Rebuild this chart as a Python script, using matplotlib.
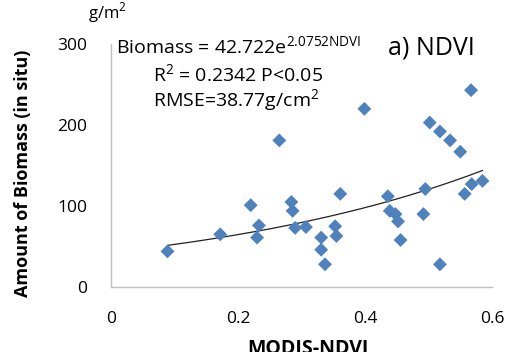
import numpy as np
import matplotlib
matplotlib.use('Agg')
import matplotlib.pyplot as plt

# MODIS-NDVI vs in situ biomass (g/m2)
ndvi = [0.089, 0.172, 0.220, 0.233, 0.230, 0.284, 0.286, 0.290, 0.307,
        0.361, 0.353, 0.355, 0.331, 0.331, 0.337, 0.436, 0.439, 0.448,
        0.452, 0.456, 0.492, 0.495, 0.518, 0.557, 0.568, 0.585, 0.265,
        0.399, 0.567, 0.502, 0.518, 0.534, 0.550]
biomass = [44, 65, 101, 76, 61, 105, 94, 73, 74,
           115, 75, 63, 61, 46, 28, 112, 94, 90,
           81, 58, 90, 121, 28, 115, 127, 131, 181,
           220, 243, 203, 192, 181, 167]

fit_a = 42.722
fit_b = 2.0752
x_ticks = [0, 0.2, 0.4, 0.6]
y_ticks = [0, 100, 200, 300]

plt.rcParams['font.family'] = ['Open Sans', 'DejaVu Sans']

W, H = 511, 352
fig = plt.figure(figsize=(W / 100, H / 100), dpi=100)
ax = fig.add_axes([111 / W, 1 - 287 / H, (492 - 111) / W, (287 - 44) / H])

ax.scatter(ndvi, biomass, marker='D', s=50, color='#4F81BD',
           edgecolors='none', zorder=3)
xs = np.linspace(min(ndvi), max(ndvi), 200)
ax.plot(xs, fit_a * np.exp(fit_b * xs), color='#202020', lw=0.9, zorder=2)

ax.set_xlim(0, 0.6)
ax.set_ylim(0, 300)
ax.set_xticks(x_ticks)
ax.set_xticklabels(['0', '0.2', '0.4', '0.6'])
ax.set_yticks(y_ticks)
ax.tick_params(axis='y', length=0, labelsize=12.5, pad=17)
ax.tick_params(axis='x', length=0, labelsize=12.5, pad=17)
for side in ['top', 'right']:
    ax.spines[side].set_visible(False)
for side in ['left', 'bottom']:
    ax.spines[side].set_color('#bfbfbf')
    ax.spines[side].set_linewidth(1)

fig.text(23 / W, 1 - 173 / H, 'Amount of Biomass (in situ)', rotation=90,
         ha='center', va='center', fontsize=13, fontweight='bold')
fig.text(308 / W, 1 - 349 / H, 'MODIS-NDVI', ha='center', va='center',
         fontsize=14, fontweight='bold')
fig.text(88 / W, 1 - 13 / H, 'g/m$^{\\mathregular{2}}$', ha='left', va='center',
         fontsize=12)

fig.text(116 / W, 1 - 47 / H, 'Biomass = 42.722e$^{\\mathregular{2.0752NDVI}}$',
         ha='left', va='center', fontsize=14)
fig.text(153 / W, 1 - 75 / H, 'R$^{\\mathregular{2}}$ = 0.2342 P<0.05',
         ha='left', va='center', fontsize=14)
fig.text(153 / W, 1 - 101 / H, 'RMSE=38.77g/cm$^{\\mathregular{2}}$',
         ha='left', va='center', fontsize=14)
fig.text(388 / W, 1 - 48 / H, 'a) NDVI', ha='left', va='center', fontsize=18)

fig.savefig('out.png', dpi=100)
